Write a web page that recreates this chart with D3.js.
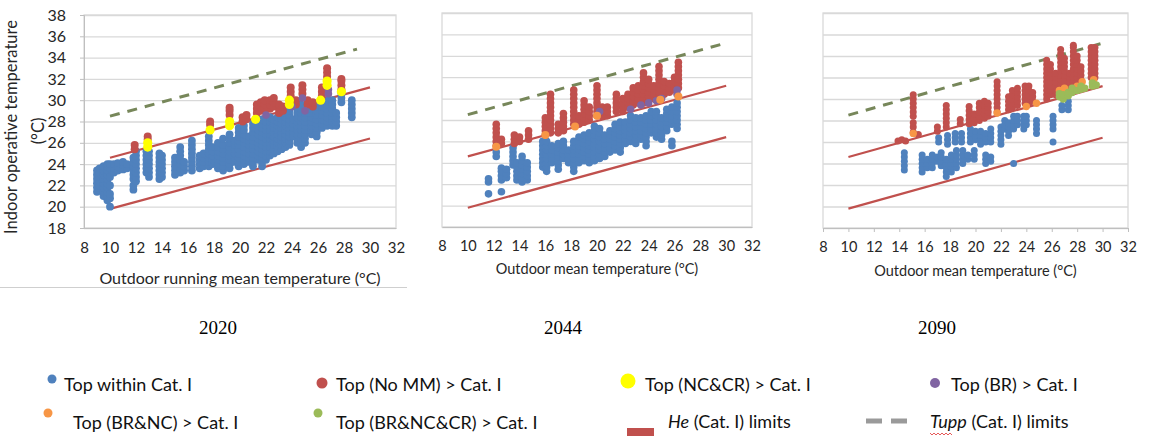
<!DOCTYPE html>
<html>
<head>
<meta charset="utf-8">
<script src="https://cdn.jsdelivr.net/npm/d3@7"></script>
<style>
  body { margin: 0; background: #fff; }
  svg { display: block; }
  text { font-family: Lato, "Open Sans", sans-serif; fill: #262626; }
</style>
</head>
<body>
<script>
// ---- data (columns of points: [outdoor temp, [indoor temps...]]) ----
var xTicks = [8, 10, 12, 14, 16, 18, 20, 22, 24, 26, 28, 30, 32];
var yTicks = [18, 20, 22, 24, 26, 28, 30, 32, 34, 36, 38];
var years = ["2020", "2044", "2090"];

var heUpper = [[10, 24.6], [30, 31.2]];
var heLower = [[10, 19.8], [30, 26.4]];
var tupp2020 = [[10, 28.5], [29, 34.8]];
var tuppLater = [[10, 28.5], [30, 35.2]];

var blue2020 = [
  [9.0, [21.4, 21.8, 22.2, 22.6, 23.0, 23.4]],
  [9.2, [21.6, 22.0, 22.4, 22.8, 23.2, 23.6]],
  [9.5, [21.0, 21.4, 21.8, 22.2, 22.6, 23.0, 23.4, 23.8]],
  [9.8, [20.6, 21.0, 21.4, 21.8, 22.2, 22.6, 23.0, 23.4, 23.8, 24.0]],
  [10.0, [20.0, 20.8, 21.2, 22.0, 22.8, 23.6, 24.0]],
  [10.3, [23.2, 23.6, 24.0]],
  [10.6, [23.4, 23.8, 24.1]],
  [11.0, [23.5, 23.9, 24.2]],
  [11.3, [23.6, 24.0]],
  [11.8, [21.6, 22.0, 22.6, 23.0, 23.4, 23.8, 24.2, 24.6]],
  [12.0, [22.4, 22.8, 23.2, 23.6, 24.0, 24.4, 24.8, 25.2]],
  [12.8, [23.2, 23.6, 24.0, 24.4, 24.8, 25.2]],
  [13.0, [22.8, 23.2, 23.6, 24.0, 24.4, 24.8, 25.2]],
  [13.8, [22.6, 23.0, 23.4, 23.8, 24.2, 24.6, 25.0]],
  [14.0, [22.8, 23.2, 23.6, 24.0, 24.4, 24.8]],
  [15.0, [23.0, 23.4, 23.8, 24.2, 24.6]],
  [15.4, [23.2, 23.6, 24.0, 24.4, 24.8, 25.2, 25.6]],
  [15.7, [23.4, 23.8, 24.2]],
  [16.3, [23.4, 23.8, 24.2, 24.6, 25.0, 25.4, 25.8, 26.2]],
  [16.9, [23.6, 24.0, 24.4, 24.8]],
  [17.2, [23.8, 24.2, 24.6, 25.0]],
  [17.6, [23.8, 24.2, 24.6, 25.0, 25.4, 25.8, 26.2, 26.6]],
  [17.9, [24.0, 24.4, 24.8, 25.2, 25.6]],
  [18.3, [23.6, 24.0, 24.4, 24.8, 25.2, 25.6, 26.0]],
  [18.7, [23.4, 23.8, 24.2, 24.6, 25.0, 25.4, 25.8, 26.4]],
  [19.2, [23.6, 24.0, 24.4, 24.8, 25.2, 25.6, 26.0, 26.4, 26.8]],
  [19.6, [24.2, 24.6, 25.0, 25.4, 25.8, 26.2]],
  [19.9, [23.8, 24.2, 24.6, 25.0, 25.4, 25.8, 26.2, 26.6, 27.0, 27.4]],
  [20.3, [24.0, 24.4, 24.8, 25.2, 25.6, 26.0, 26.4, 26.8, 27.2, 27.6]],
  [20.7, [24.2, 24.6, 25.0, 25.4, 25.8, 26.2, 26.6]],
  [21.0, [23.8, 24.2, 24.6, 25.0, 25.4, 25.8, 26.2, 26.6, 27.0, 27.4, 27.8]],
  [21.4, [24.4, 24.8, 25.2, 25.6, 26.0, 26.4, 26.8, 27.2, 27.6, 28.0]],
  [21.7, [23.8, 24.2, 24.6, 25.0, 25.4, 25.8, 26.2, 26.6, 27.0, 27.4, 27.8, 28.2]],
  [22.0, [24.4, 24.8, 25.2, 25.6, 26.0, 26.4, 26.8, 27.2, 27.6, 28.0]],
  [22.3, [24.8, 25.2, 25.6, 26.0, 26.4, 26.8, 27.2, 27.6, 28.0, 28.4]],
  [22.6, [25.0, 25.4, 25.8, 26.2, 26.6, 27.0, 27.4, 27.8, 28.2]],
  [22.9, [25.2, 25.6, 26.0, 26.4, 26.8, 27.2, 27.6, 28.0, 28.4]],
  [23.2, [25.4, 25.8, 26.2, 26.6, 27.0, 27.4, 27.8, 28.2, 28.6]],
  [23.5, [25.6, 26.0, 26.4, 26.8, 27.2, 27.6, 28.0, 28.4, 28.8]],
  [23.8, [25.8, 26.2, 26.6, 27.0, 27.4, 27.8, 28.2, 28.6, 29.0]],
  [24.1, [26.6, 27.0, 27.4, 27.8, 28.2]],
  [24.4, [26.0, 26.4, 26.8, 27.2, 27.6, 28.0, 28.4, 28.8, 29.2]],
  [24.7, [25.6, 26.0, 26.4, 26.8, 27.2, 27.6, 28.0, 28.4, 28.8, 29.2, 29.6]],
  [25.0, [26.0, 26.4, 26.8, 27.2, 27.6, 28.0, 28.4, 28.8, 29.2]],
  [25.5, [26.8, 27.2, 27.6, 28.0, 28.4, 28.8, 29.2]],
  [25.9, [26.6, 27.0, 27.4, 27.8, 28.2, 28.6, 29.0, 29.4]],
  [26.3, [27.4, 27.8, 28.2, 28.6, 29.0, 29.4]],
  [26.7, [27.6, 28.0, 28.4, 28.8, 29.2, 29.6, 30.0]],
  [27.1, [27.6, 28.0, 28.4, 28.8, 29.2, 29.6, 30.0]],
  [27.4, [27.6, 28.0, 28.4, 28.8]],
  [27.8, [29.8, 30.2, 30.6]],
  [28.6, [28.4, 28.8, 29.2, 29.6, 30.0]]
];
var red2020 = [
  [11.9, [25.4, 25.8]],
  [12.9, [26.3, 26.6]],
  [17.7, [27.7, 28.0]],
  [19.2, [28.6, 29.0, 29.3]],
  [20.2, [28.0, 28.4]],
  [20.5, [28.2, 28.6]],
  [21.3, [28.8, 29.2, 29.6]],
  [21.6, [29.0, 29.4, 29.8]],
  [21.9, [29.2, 29.6, 30.0]],
  [22.3, [29.2, 29.6, 30.0]],
  [22.6, [29.4, 29.8, 30.2]],
  [23.0, [28.8, 29.2, 29.6]],
  [23.3, [29.0, 29.4]],
  [23.9, [30.4, 30.8, 31.2]],
  [24.3, [29.6, 30.0]],
  [24.8, [30.6, 31.0, 31.4]],
  [25.2, [29.6, 30.0]],
  [25.6, [29.4, 29.8]],
  [26.3, [30.4, 30.8, 31.2]],
  [26.7, [32.2, 32.6, 33.0]],
  [27.8, [31.0, 31.4, 31.8, 32.0]]
];
var purple2020 = [
  [22.0, [28.6]], [24.0, [29.4]], [24.8, [30.2]], [25.0, [29.0]], [26.8, [30.6, 31.0]]
];
var yellow2020 = [
  [12.9, [25.6, 26.0]], [17.7, [27.2]], [19.2, [27.6, 28.0]], [21.2, [28.2]],
  [23.8, [29.6, 30.0]], [26.2, [30.0]], [26.7, [31.4, 31.8]], [27.8, [30.8]]
];

var blue2044 = [
  [11.6, [21.1, 22.2, 22.5]],
  [12.2, [24.6, 25.0]],
  [12.6, [21.3, 22.4, 22.8, 23.2, 23.5]],
  [13.0, [22.6, 23.0, 23.4]],
  [13.5, [23.8, 24.2, 24.6, 25.0, 25.4]],
  [13.8, [22.4, 22.8, 23.2, 23.6, 24.0]],
  [14.2, [22.2, 22.6, 23.0, 23.4, 23.8, 24.2, 24.6]],
  [14.6, [22.4, 22.8, 23.2, 23.6, 24.0]],
  [15.8, [23.6, 24.0, 24.4, 24.8, 25.2, 25.6, 26.0]],
  [16.1, [23.2, 23.6, 24.0, 24.4, 24.8, 25.2, 25.6, 26.0]],
  [16.5, [24.0, 24.4, 24.8, 25.2, 25.6]],
  [17.0, [23.4, 23.8, 24.2, 24.6, 25.0, 25.4, 25.8]],
  [17.4, [24.4, 24.8, 25.2, 25.6, 26.0]],
  [17.8, [24.0, 24.4, 24.8, 25.2]],
  [18.2, [23.2, 23.6, 24.0, 24.4, 24.8, 25.2, 25.6, 26.0]],
  [18.6, [24.0, 24.4, 24.8, 25.2, 25.6, 26.0, 26.4]],
  [19.0, [24.2, 24.6, 25.0, 25.4, 25.8, 26.2, 26.6]],
  [19.4, [24.0, 24.4, 24.8, 25.2, 25.6, 26.0, 26.4, 26.8]],
  [19.8, [24.2, 24.6, 25.0, 25.4, 25.8, 26.2, 26.6, 27.0, 27.4]],
  [20.2, [24.4, 24.8, 25.2, 25.6, 26.0, 26.4, 26.8, 27.2]],
  [20.6, [24.6, 25.0, 25.4, 25.8, 26.2, 26.6]],
  [21.0, [25.0, 25.4, 25.8, 26.2, 26.6, 27.0]],
  [21.4, [25.2, 25.6, 26.0, 26.4, 26.8, 27.2, 27.6]],
  [21.8, [25.0, 25.4, 25.8, 26.2, 26.6, 27.0, 27.4, 27.8]],
  [22.2, [25.8, 26.2, 26.6, 27.0, 27.4, 27.8]],
  [22.6, [26.0, 26.4, 26.8, 27.2, 27.6, 28.0, 28.4]],
  [23.0, [25.8, 26.2, 26.6, 27.0, 27.4, 27.8, 28.2]],
  [23.4, [26.2, 26.6, 27.0, 27.4, 27.8, 28.2]],
  [23.8, [25.6, 26.0, 26.4, 26.8, 27.2, 27.6, 28.0, 28.4]],
  [24.2, [26.8, 27.2, 27.6, 28.0, 28.4, 28.8]],
  [24.6, [26.4, 26.8, 27.2, 27.6, 28.0, 28.4, 28.8]],
  [25.0, [26.2, 26.6, 27.0, 27.4, 27.8, 28.2]],
  [25.4, [27.0, 27.4, 27.8, 28.2, 28.6, 29.0]],
  [25.8, [25.6, 26.0, 27.6, 28.0, 28.4, 28.8, 29.2]],
  [26.2, [27.2, 27.6, 28.0, 28.4, 28.8, 29.2, 29.6]]
];
var red2044 = [
  [12.2, [25.6, 26.0, 26.4, 26.8, 27.2, 27.6]],
  [12.6, [25.8, 26.2]],
  [13.6, [25.8, 26.2, 26.6]],
  [14.0, [26.0, 26.4]],
  [14.7, [26.2, 26.6, 27.0]],
  [16.0, [26.6, 27.0, 27.4, 27.8, 28.2]],
  [16.4, [26.8, 27.2, 27.6, 28.0, 28.4, 28.8, 29.2, 29.6, 30.0, 30.4]],
  [17.0, [26.8, 27.2, 27.6]],
  [17.4, [27.0, 27.4, 27.8, 28.2, 28.6]],
  [18.2, [27.6, 28.0, 28.4, 28.8, 29.2, 29.6, 30.0, 30.4, 30.8]],
  [18.6, [27.6, 28.0, 28.4]],
  [19.0, [27.8, 28.2, 28.6, 29.0, 29.4, 29.8]],
  [19.4, [28.0, 28.4, 28.8, 29.2]],
  [20.0, [28.4, 28.8, 29.2, 29.6, 30.0, 30.4, 30.8, 31.2]],
  [20.4, [28.4, 28.8, 29.2]],
  [20.8, [28.4, 28.8, 29.2]],
  [21.5, [28.8, 29.2, 29.6, 30.0, 30.4]],
  [22.0, [28.8, 29.2, 29.6, 30.0]],
  [22.4, [29.2, 29.6, 30.0, 30.4]],
  [22.8, [29.4, 29.8, 30.2, 30.6, 31.0]],
  [23.2, [29.6, 30.0, 30.4, 30.8, 31.2]],
  [23.6, [29.6, 30.0, 30.4, 30.8, 31.2, 31.6, 32.0, 32.4]],
  [24.0, [29.8, 30.2, 30.6, 31.0, 31.4, 31.8]],
  [24.4, [30.0, 30.4, 30.8, 31.2]],
  [24.8, [30.2, 30.6, 31.0, 31.4, 31.8, 32.2, 32.6, 33.0]],
  [25.2, [30.4, 30.8, 31.2, 31.6]],
  [25.6, [30.6, 31.0, 31.4]],
  [26.0, [30.8, 31.2, 31.6, 32.0]],
  [26.3, [31.0, 31.4, 31.8, 32.2, 32.6, 33.0, 33.4]]
];
var purple2044 = [
  [20.2, [28.8]], [22.6, [29.0]], [23.4, [29.4]], [24.0, [29.6]], [24.6, [29.8]],
  [25.0, [30.0]], [26.2, [30.4, 30.8]]
];
var orange2044 = [
  [12.2, [25.5]], [16.0, [26.6]], [18.3, [27.4]], [20.0, [28.4]], [24.9, [29.9]], [26.3, [30.2]]
];

var blue2090 = [
  [14.4, [23.4, 23.8, 24.2, 24.6, 25.0]],
  [15.8, [23.2, 23.6, 24.0, 24.4, 24.8]],
  [16.2, [23.6, 24.0, 24.4]],
  [16.6, [23.6, 24.0, 24.4, 24.8]],
  [17.0, [24.2, 24.6]],
  [17.1, [26.0, 26.4]],
  [17.3, [23.8, 24.2, 24.6, 25.0]],
  [17.7, [22.8, 23.2, 23.6, 24.0, 24.4]],
  [17.8, [25.8, 26.2, 26.6]],
  [18.1, [23.2, 23.6, 24.0, 24.4, 24.8]],
  [18.4, [26.0, 26.4, 26.8]],
  [18.5, [23.6, 24.0, 24.4, 24.8, 25.2]],
  [18.9, [26.0, 26.4, 26.8]],
  [19.0, [24.0, 24.4, 24.8, 25.2]],
  [19.4, [24.4, 24.8]],
  [19.6, [26.0, 26.4, 26.8, 27.2]],
  [19.9, [24.4, 24.8, 25.2]],
  [20.0, [26.2, 26.6, 27.0]],
  [20.4, [25.8, 26.2, 26.6, 27.0]],
  [20.8, [24.0, 24.4, 24.8, 26.0, 26.4, 26.8]],
  [21.2, [24.2, 24.6, 26.0, 26.4, 26.8, 27.2]],
  [22.0, [25.8, 26.2, 26.6, 27.0, 27.4]],
  [22.3, [27.2, 27.6, 28.0]],
  [22.6, [26.6, 27.0, 27.4, 27.8]],
  [23.0, [24.0, 27.2, 27.6, 28.0, 28.4]],
  [23.3, [27.6, 28.0, 28.4]],
  [23.8, [27.2, 27.6, 28.0, 28.4]],
  [24.0, [27.6, 28.0, 28.4]],
  [24.8, [26.8, 27.2, 27.6, 28.0]],
  [26.1, [26.0, 27.2, 27.6, 28.0, 28.4]],
  [26.8, [29.0, 29.4]],
  [27.3, [29.0, 29.4, 29.8]]
];
var red2090 = [
  [13.9, [26.1]], [14.2, [26.2]], [14.5, [26.1]],
  [15.1, [26.9, 27.4, 27.8, 28.4, 28.8, 29.2, 29.6, 30.0, 30.4]],
  [15.5, [26.7]],
  [17.0, [27.0, 27.4]],
  [17.7, [27.4, 27.8, 28.2, 28.6, 29.0, 29.4]],
  [18.8, [27.7, 28.1]],
  [19.5, [27.7, 28.1, 28.5, 28.9, 29.3]],
  [19.9, [27.8, 28.2, 28.6]],
  [20.3, [28.0, 28.4, 28.8, 29.2, 29.6]],
  [20.7, [28.2, 28.6, 29.0, 29.4, 29.8]],
  [21.0, [28.4, 28.8, 29.2, 29.6]],
  [21.7, [28.8, 29.2, 29.6, 30.0, 30.4, 30.8, 31.2, 31.6]],
  [22.6, [29.0, 29.4, 29.8, 30.2]],
  [22.9, [29.2, 29.6, 30.0, 30.4, 30.8]],
  [23.3, [29.4, 29.8, 30.2, 30.6, 31.0]],
  [23.9, [29.6, 30.0, 30.4, 30.8, 31.2]],
  [24.2, [29.6, 30.0, 30.4, 30.8, 31.2]],
  [24.5, [29.8, 30.2, 30.6]],
  [25.6, [30.0, 30.4, 30.8, 31.2, 31.6, 32.0, 32.4, 32.8, 33.2, 33.6]],
  [25.9, [30.4, 30.8, 31.2, 31.6, 32.0, 32.4, 32.8, 33.2]],
  [26.3, [30.4, 30.8, 31.2, 31.6, 32.0, 32.4]],
  [26.7, [31.0, 31.4, 31.8, 32.2, 32.6, 33.0, 33.4, 33.8, 34.2, 34.6]],
  [27.0, [31.0, 31.4, 31.8, 32.2, 32.6, 33.0, 33.4, 33.8]],
  [27.4, [31.2, 31.6, 32.0, 32.4]],
  [27.7, [31.6, 32.0, 32.4, 32.8, 33.2, 33.6, 34.0, 34.4, 34.8, 35.0]],
  [28.0, [31.6, 32.0, 32.4, 32.8, 33.2, 33.6, 34.0]],
  [28.3, [31.8, 32.2, 32.6, 33.0]],
  [29.1, [32.0, 32.4, 32.8, 33.2, 33.6, 34.0, 34.4, 34.8]],
  [29.4, [32.0, 32.4, 32.8, 33.2, 33.6, 34.0, 34.4, 34.8]]
];
var orange2090 = [
  [15.1, [26.8]], [21.7, [28.7]], [24.0, [29.3]], [24.8, [29.6]], [26.6, [30.8]],
  [27.0, [31.0]], [28.0, [31.2]], [28.4, [31.6]], [29.3, [31.8]]
];
var green2090 = [
  [26.6, [30.2, 30.5]], [26.9, [30.0, 30.4]], [27.3, [30.3, 30.6]], [27.6, [30.6, 31.0]],
  [28.0, [30.8]], [28.3, [30.9, 31.2]], [28.6, [31.0]], [29.2, [31.2, 31.5]], [29.5, [31.3]]
];

var legendDots = ["Top within Cat. I", "Top (No MM) > Cat. I", "Top (NC&CR) > Cat. I", "Top (BR) > Cat. I",
                  "Top (BR&NC) > Cat. I", "Top (BR&NC&CR) > Cat. I"];

// ---- styles ----
var C = {
  blue: "#4f81bd", red: "#c0504d", yellow: "#ffff00", purple: "#8064a2",
  orange: "#f79646", green: "#9bbb59", dash: "#77875a", grid: "#d9d9d9"
};

var panels = [
  { year: years[0], left: 84, right: 396, top: 15, bottom: 228, title: "Outdoor running mean temperature (°C)",
    titleY: 284, titleSize: 16, tickSize: 15, yLabels: true, xTickMarks: false, tupp: tupp2020,
    series: [[blue2020, C.blue, 3.9], [red2020, C.red, 4], [purple2020, C.purple, 3.8], [yellow2020, C.yellow, 4.6]] },
  { year: years[1], left: 442, right: 752, top: 13, bottom: 227, title: "Outdoor mean temperature (°C)",
    titleY: 274, titleSize: 14.5, tickSize: 14.5, yLabels: false, xTickMarks: false, tupp: tuppLater,
    series: [[blue2044, C.blue, 3.8], [red2044, C.red, 3.8], [purple2044, C.purple, 3.8], [orange2044, C.orange, 4]] },
  { year: years[2], left: 823, right: 1128, top: 13, bottom: 228, title: "Outdoor mean temperature (°C)",
    titleY: 276, titleSize: 14.5, tickSize: 14.5, yLabels: false, xTickMarks: true, tupp: tuppLater,
    series: [[blue2090, C.blue, 3.5], [red2090, C.red, 3.5], [orange2090, C.orange, 3.7], [green2090, C.green, 3.7]] }
];
var yearX = [218, 563, 937];

function pts(cols) {
  return cols.flatMap(function(c) { return c[1].map(function(v) { return [c[0], v]; }); });
}

var svg = d3.select("body").append("svg")
  .attr("width", 1149)
  .attr("height", 436);

panels.forEach(function(p, i) {
  var x = d3.scaleLinear().domain([8, 32]).range([p.left, p.right]);
  var y = d3.scaleLinear().domain([18, 38]).range([p.bottom, p.top]);
  var g = svg.append("g");

  // grid
  g.append("g")
    .attr("transform", "translate(" + p.left + ",0)")
    .call(d3.axisLeft(y).tickValues(yTicks).tickSize(-(p.right - p.left)).tickFormat(""))
    .call(function(a) { a.select(".domain").remove(); })
    .selectAll("line").attr("stroke", C.grid).attr("stroke-width", 1.3);

  g.append("rect")
    .attr("x", p.left).attr("y", p.top)
    .attr("width", p.right - p.left).attr("height", p.bottom - p.top)
    .style("fill", "none").style("stroke", C.grid).style("stroke-width", 1.3);

  // x axis
  var xa = g.append("g")
    .attr("transform", "translate(0," + p.bottom + ")")
    .call(d3.axisBottom(x).tickValues(xTicks).tickSize(p.xTickMarks ? 4 : 0).tickPadding(p.xTickMarks ? 10 : 14));
  xa.select(".domain").attr("stroke", "#bfbfbf");
  xa.selectAll("line").attr("stroke", "#bfbfbf");
  xa.selectAll("text").style("font-size", p.tickSize + "px").style("fill", "#262626");

  if (p.yLabels) {
    var ya = g.append("g")
      .attr("transform", "translate(" + p.left + ",0)")
      .call(d3.axisLeft(y).tickValues(yTicks).tickSize(4).tickPadding(14));
    ya.select(".domain").attr("stroke", "#bfbfbf");
    ya.selectAll("line").attr("stroke", "#bfbfbf");
    ya.selectAll("text").style("font-size", "16px").style("fill", "#262626");

    svg.append("text")
      .attr("transform", "translate(17,127) rotate(-90)")
      .attr("text-anchor", "middle")
      .style("font-size", "16.5px")
      .text("Indoor operative temperature");
    svg.append("text")
      .attr("transform", "translate(44,131) rotate(-90)")
      .attr("text-anchor", "middle")
      .style("font-size", "16.5px")
      .text("(°C)");
  }

  g.append("text")
    .attr("x", (p.left + p.right) / 2)
    .attr("y", p.titleY)
    .attr("text-anchor", "middle")
    .style("font-size", p.titleSize + "px")
    .text(p.title);

  // limit lines
  var line = d3.line().x(function(d) { return x(d[0]); }).y(function(d) { return y(d[1]); });
  g.append("path").datum(heUpper).attr("d", line)
    .style("fill", "none").style("stroke", C.red).style("stroke-width", 2.2);
  g.append("path").datum(heLower).attr("d", line)
    .style("fill", "none").style("stroke", C.red).style("stroke-width", 2.2);
  g.append("path").datum(p.tupp).attr("d", line)
    .style("fill", "none").style("stroke", C.dash).style("stroke-width", 3)
    .style("stroke-dasharray", "10,8");

  // points
  p.series.forEach(function(s) {
    g.append("g").selectAll("circle")
      .data(pts(s[0]))
      .join("circle")
      .attr("cx", function(d) { return x(d[0]); })
      .attr("cy", function(d) { return y(d[1]); })
      .attr("r", s[2])
      .style("fill", s[1]);
  });

  svg.append("text")
    .attr("x", yearX[i])
    .attr("y", 334)
    .attr("text-anchor", "middle")
    .style("font-family", "'Liberation Serif', 'Times New Roman', serif")
    .style("font-size", "19px")
    .style("fill", "#000")
    .text(p.year);
});

// underline of first panel title
svg.append("line")
  .attr("x1", 0).attr("x2", 407).attr("y1", 287.5).attr("y2", 287.5)
  .style("stroke", "#cfcfcf");

// ---- legend ----
var leg = svg.append("g").style("font-size", "18px");
var dotItems = [
  { cx: 52, cy: 379, r: 4.5, c: C.blue, tx: 64, ty: 391, label: legendDots[0] },
  { cx: 322, cy: 383, r: 5.5, c: C.red, tx: 336, ty: 391, label: legendDots[1] },
  { cx: 628, cy: 381, r: 7.5, c: C.yellow, tx: 645, ty: 391, label: legendDots[2] },
  { cx: 935, cy: 383, r: 5, c: C.purple, tx: 951, ty: 391, label: legendDots[3] },
  { cx: 48, cy: 413, r: 4.5, c: C.orange, tx: 73, ty: 429, label: legendDots[4] },
  { cx: 318, cy: 413, r: 4.5, c: C.green, tx: 336, ty: 429, label: legendDots[5] }
];
dotItems.forEach(function(d) {
  leg.append("circle").attr("cx", d.cx).attr("cy", d.cy).attr("r", d.r).style("fill", d.c);
  leg.append("text").attr("x", d.tx).attr("y", d.ty).style("fill", "#111").text(d.label);
});

leg.append("rect").attr("x", 627).attr("y", 428).attr("width", 27).attr("height", 8).style("fill", C.red);
var t1 = leg.append("text").attr("x", 668).attr("y", 428).style("fill", "#111");
t1.append("tspan").style("font-style", "italic").text("He");
t1.append("tspan").text(" (Cat. I) limits");

leg.append("line").attr("x1", 866).attr("x2", 882).attr("y1", 421).attr("y2", 421)
  .style("stroke", "#9a9a9a").style("stroke-width", 5);
leg.append("line").attr("x1", 891).attr("x2", 907).attr("y1", 421).attr("y2", 421)
  .style("stroke", "#9a9a9a").style("stroke-width", 5);
var t2 = leg.append("text").attr("x", 930).attr("y", 428).style("fill", "#111");
t2.append("tspan").style("font-style", "italic").text("Tupp");
t2.append("tspan").text(" (Cat. I) limits");

// red squiggle under "Tupp"
var sq = "M930,433";
for (var k = 0; k < 11; k++) sq += " l2," + (k % 2 ? -2 : 2);
leg.append("path").attr("d", sq).style("fill", "none").style("stroke", "#e03030").style("stroke-width", 0.8);
</script>
</body>
</html>
